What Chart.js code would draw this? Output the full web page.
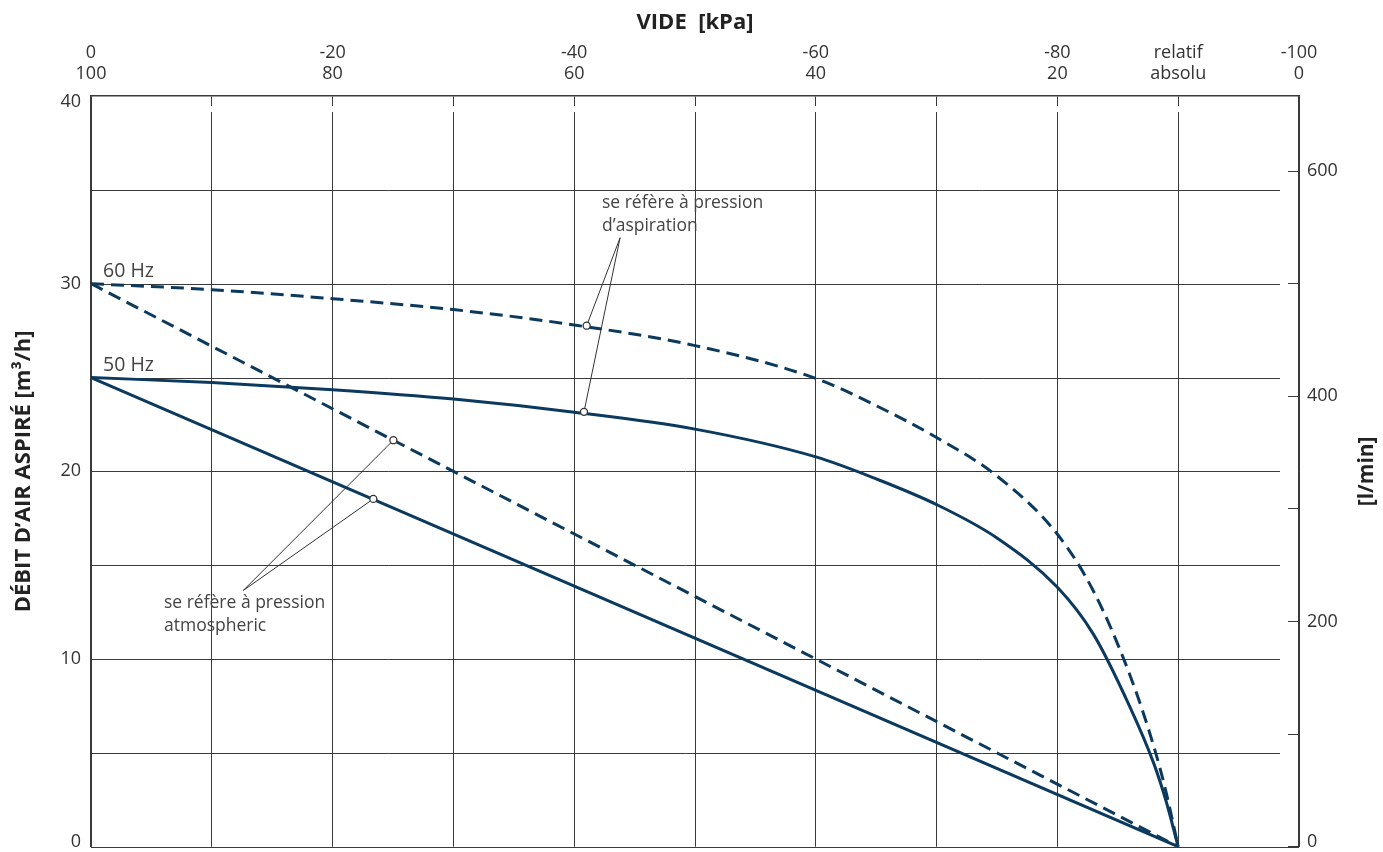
<!DOCTYPE html>
<html>
<head>
<meta charset="utf-8">
<script src="https://cdn.jsdelivr.net/npm/chart.js@4.4.1/dist/chart.umd.min.js"></script>
<style>
  html, body { margin: 0; padding: 0; background: #fff; overflow: hidden; }
  canvas { display: block; }
</style>
</head>
<body>
<canvas id="myChart" width="1383" height="852"></canvas>
<script>
// vide relatif (kPa) / débit (m3/h)
var vide50asp = [0, -10, -20, -30, -40, -50, -60, -65, -70, -75, -80, -83, -86, -88, -89, -90];
var debit50asp = [25, 24.73, 24.35, 23.85, 23.15, 22.25, 20.77, 19.6, 18.23, 16.45, 13.82, 11.3, 7.45, 4.4, 2.42, 0];

var vide60asp = [0, -10, -20, -30, -40, -50, -60, -65, -70, -75, -80, -83, -86, -88, -89, -90];
var debit60asp = [30, 29.68, 29.2, 28.62, 27.8, 26.7, 24.95, 23.5, 21.8, 19.75, 16.65, 13.6, 9.15, 5.3, 2.9, 0];

var vide50atm = [0, -90];
var debit50atm = [25, 0];
var vide60atm = [0, -90];
var debit60atm = [30, 0];

// petits cercles sur les courbes + traits de renvoi
var markVide = [-41.03, -40.81, -25.03, -23.37];
var markDebit = [27.76, 23.17, 21.66, 18.53];
var renvoiAspVide = [-41.03, -43.8, -40.81];
var renvoiAspDebit = [27.76, 32.45, 23.17];
var renvoiAtmVide = [-25.03, -12.6, -23.37];
var renvoiAtmDebit = [21.66, 13.65, 18.53];

var videTicks = [0, -20, -40, -60, -80, -100];
var lminLabels = [0, 200, 400, 600];

var navy = '#0b3a5e';
var grey = '#3a3a3a';
var txt = '#333';
var fam = '"Open Sans", "DejaVu Sans", sans-serif';

function pts(xs, ys) {
    return xs.map(function (x, i) { return { x: x, y: ys[i] }; });
}

var notes = [
    { x: -42.3, y: 34.3, lines: ['se réfère à pression', 'd\u2019aspiration'], size: 17.5 },
    { x: -6.04, y: 13.0, lines: ['se réfère à pression', 'atmospheric'], size: 17.5 },
    { x: -1.0, y: 30.63, lines: ['60 Hz'], size: 19.5 },
    { x: -1.0, y: 25.64, lines: ['50 Hz'], size: 19.5 }
];

var extras = {
    id: 'extras',
    beforeDatasetsDraw: function (chart) {
        var ctx = chart.ctx, a = chart.chartArea, ys = chart.scales.y, xs = chart.scales.x;
        ctx.save();
        // petite coupure des verticales sous le bord haut
        ctx.fillStyle = '#fff';
        xs.ticks.forEach(function (t) {
            if (t.value === 0 || t.value === -100) return;
            var px = xs.getPixelForValue(t.value);
            ctx.fillRect(px - 2, a.top + 10, 4, 6);
        });
        ctx.strokeStyle = grey;
        ctx.lineWidth = 1;
        ys.ticks.forEach(function (t) {
            if (t.value === 40) return;
            var py = Math.round(ys.getPixelForValue(t.value)) + 0.5;
            var end = t.value === 0 ? a.right : a.right - 19;
            ctx.beginPath();
            ctx.moveTo(a.left, py);
            ctx.lineTo(end, py);
            ctx.stroke();
        });
        ctx.restore();
    },
    afterDatasetsDraw: function (chart) {
        var ctx = chart.ctx, xs = chart.scales.x, ys = chart.scales.y;
        ctx.save();
        ctx.fillStyle = '#444';
        ctx.textAlign = 'left';
        ctx.textBaseline = 'middle';
        notes.forEach(function (n) {
            ctx.font = n.size + 'px ' + fam;
            var px = xs.getPixelForValue(n.x), py = ys.getPixelForValue(n.y);
            n.lines.forEach(function (l, j) { ctx.fillText(l, px, py + j * 23.5); });
        });
        ctx.restore();
    },
    afterDraw: function (chart) {
        var ctx = chart.ctx, r = chart.scales.y2, a = chart.chartArea;
        ctx.save();
        ctx.fillStyle = '#222';
        ctx.font = 'bold 21px ' + fam;
        ctx.textAlign = 'center';
        ctx.textBaseline = 'middle';
        ctx.translate(r.right - 16, (a.top + a.bottom) / 2);
        ctx.rotate(-Math.PI / 2);
        ctx.fillText('[l/min]', 0, 0);
        ctx.restore();
    }
};

// les étiquettes 0 et 40 sont un peu décalées vers l'intérieur
function tickFont(c) {
    var v = c.tick ? c.tick.value : null;
    if (v === 0) return { family: fam, size: 18, lineHeight: '10px' };
    if (v === 40) return { family: fam, size: 18, lineHeight: '11px' };
    return { family: fam, size: 18 };
}

const ctx = document.getElementById('myChart').getContext('2d');
var myChart = new Chart(ctx, {
    type: 'line',
    data: {
        datasets: [
            { label: 'repères', data: pts(markVide, markDebit), showLine: false,
              pointRadius: 3.5, pointBorderWidth: 1.3, pointBorderColor: '#333',
              pointBackgroundColor: '#fff', order: 1 },
            { label: 'renvoi aspiration', data: pts(renvoiAspVide, renvoiAspDebit),
              borderColor: '#333', borderWidth: 1, pointRadius: 0, order: 2 },
            { label: 'renvoi atmospheric', data: pts(renvoiAtmVide, renvoiAtmDebit),
              borderColor: '#333', borderWidth: 1, pointRadius: 0, order: 2 },
            { label: '50 Hz aspiration', data: pts(vide50asp, debit50asp),
              borderColor: navy, borderWidth: 3, pointRadius: 0,
              cubicInterpolationMode: 'monotone', borderJoinStyle: 'round', order: 3 },
            { label: '60 Hz aspiration', data: pts(vide60asp, debit60asp),
              borderColor: navy, borderWidth: 3, pointRadius: 0, borderDash: [13, 7],
              cubicInterpolationMode: 'monotone', order: 3 },
            { label: '50 Hz atmospheric', data: pts(vide50atm, debit50atm),
              borderColor: navy, borderWidth: 3, pointRadius: 0, order: 3 },
            { label: '60 Hz atmospheric', data: pts(vide60atm, debit60atm),
              borderColor: navy, borderWidth: 3, pointRadius: 0, borderDash: [13, 7], order: 3 }
        ]
    },
    options: {
        responsive: false,
        animation: false,
        events: [],
        layout: { padding: { left: 0, right: 0, top: 0, bottom: 2 } },
        plugins: { legend: { display: false }, tooltip: { enabled: false } },
        scales: {
            x: {
                type: 'linear', position: 'top', min: -100, max: 0, reverse: true,
                afterFit: function (s) { s.height = 96; s.paddingLeft = 0; s.paddingRight = 0; },
                ticks: {
                    stepSize: 10, maxRotation: 0, autoSkip: false, padding: 11.5, color: txt,
                    font: { family: fam, size: 18, lineHeight: '21px' },
                    callback: function (v) {
                        if (v === -90) return ['relatif', 'absolu'];
                        if (videTicks.indexOf(v) >= 0) return [String(v === 0 ? 0 : v), String(100 + v)];
                        return '';
                    }
                },
                grid: { color: grey, lineWidth: 1, drawTicks: false },
                border: { display: true, color: grey, width: 1.5 },
                title: { display: true, text: 'VIDE  [kPa]', color: '#222',
                         font: { family: fam, size: 22, weight: 'bold' }, padding: { top: 10, bottom: 0 } }
            },
            y: {
                type: 'linear', position: 'left', min: 0, max: 40,
                afterFit: function (s) { s.width = 91; s.paddingTop = 0; s.paddingBottom = 0; },
                ticks: {
                    stepSize: 5, padding: 10, color: txt, font: tickFont,
                    callback: function (v) {
                        if (v === 0) return ['0', ''];
                        if (v === 40) return ['', '40'];
                        return v % 10 === 0 ? String(v) : '';
                    }
                },
                grid: { drawOnChartArea: false, drawTicks: false },
                border: { display: true, color: grey, width: 1.5 },
                title: { display: true, text: 'DÉBIT D\u2019AIR ASPIRÉ [m³/h]', color: '#222',
                         font: { family: fam, size: 22, weight: 'bold' }, padding: { top: 11, bottom: 0 } }
            },
            y2: {
                type: 'linear', position: 'right', min: 0, max: 40 * 1000 / 60,
                afterFit: function (s) { s.width = 84; s.paddingTop = 0; s.paddingBottom = 0; },
                ticks: {
                    stepSize: 100, includeBounds: false, padding: 19, color: txt, font: tickFont,
                    callback: function (v) {
                        if (v === 0) return ['0', ''];
                        return lminLabels.indexOf(v) >= 0 ? String(v) : '';
                    }
                },
                grid: { drawOnChartArea: false, drawTicks: true, tickLength: -11, color: grey, lineWidth: 1 },
                border: { display: true, color: grey, width: 1.5 }
            }
        }
    },
    plugins: [extras]
});
</script>
</body>
</html>
